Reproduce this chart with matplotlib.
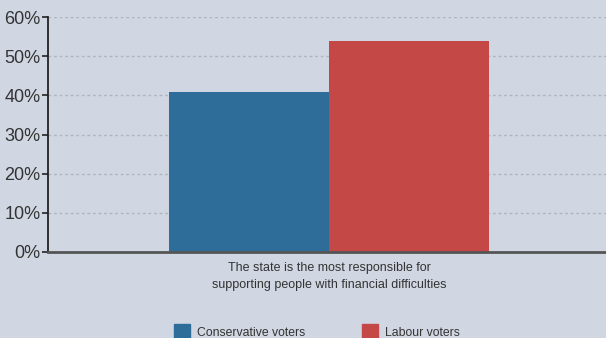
import matplotlib
matplotlib.use('Agg')
import matplotlib.pyplot as plt
from matplotlib.ticker import FuncFormatter
from matplotlib.patches import Patch

# data
groups = ['Conservative voters', 'Labour voters']
values = [40.8, 53.9]
colors = ['#2e6d99', '#c44845']
category = 'The state is the most responsible for\nsupporting people with financial difficulties'
yticks = [0, 10, 20, 30, 40, 50, 60]

bg = '#d1d7e2'
plt.rcParams['font.family'] = ['Liberation Sans', 'DejaVu Sans']

fig = plt.figure(figsize=(6.06, 3.38), dpi=100, facecolor=bg)
ax = fig.add_axes([48/606, 1 - 252/338, 1 - 48/606, (252 - 17)/338])
ax.set_facecolor(bg)

width = 0.287
offsets = [-width/2, width/2]
for name, v, c, off in zip(groups, values, colors, offsets):
    ax.bar(0.004 + off, v, width=width, color=c, label=name, zorder=3)

ax.set_xlim(-0.5, 0.5)
ax.set_ylim(0, 60)
ax.set_yticks(yticks)
ax.yaxis.set_major_formatter(FuncFormatter(lambda v, p: '%d%%' % v))
ax.tick_params(axis='y', labelsize=13, labelcolor='#333333', color='#222222',
               length=4, width=1.2, pad=1.5)
ax.set_xticks([0.004])
ax.set_xticklabels([category], fontsize=9, color='#333333', linespacing=1.55)
ax.tick_params(axis='x', length=0, pad=7)
ax.yaxis.grid(True, linestyle=(0, (2, 2)), color='#b0b4bc', linewidth=1, zorder=0)

for s in ['top', 'right']:
    ax.spines[s].set_visible(False)
ax.spines['left'].set_color('#222222')
ax.spines['left'].set_linewidth(1.3)
ax.spines['bottom'].set_color('#555555')
ax.spines['bottom'].set_linewidth(2)
ax.spines['bottom'].set_zorder(4)

handles = [Patch(color=c, label=g) for g, c in zip(groups, colors)]
fig.legend(handles=handles, loc='lower left', bbox_to_anchor=(163/606, -0.035), ncol=2,
           frameon=False, fontsize=8.8, handlelength=1.3, handleheight=1.45,
           columnspacing=4.6, handletextpad=0.6, labelcolor='#333333')

fig.savefig('out.png', dpi=100, facecolor=bg)
